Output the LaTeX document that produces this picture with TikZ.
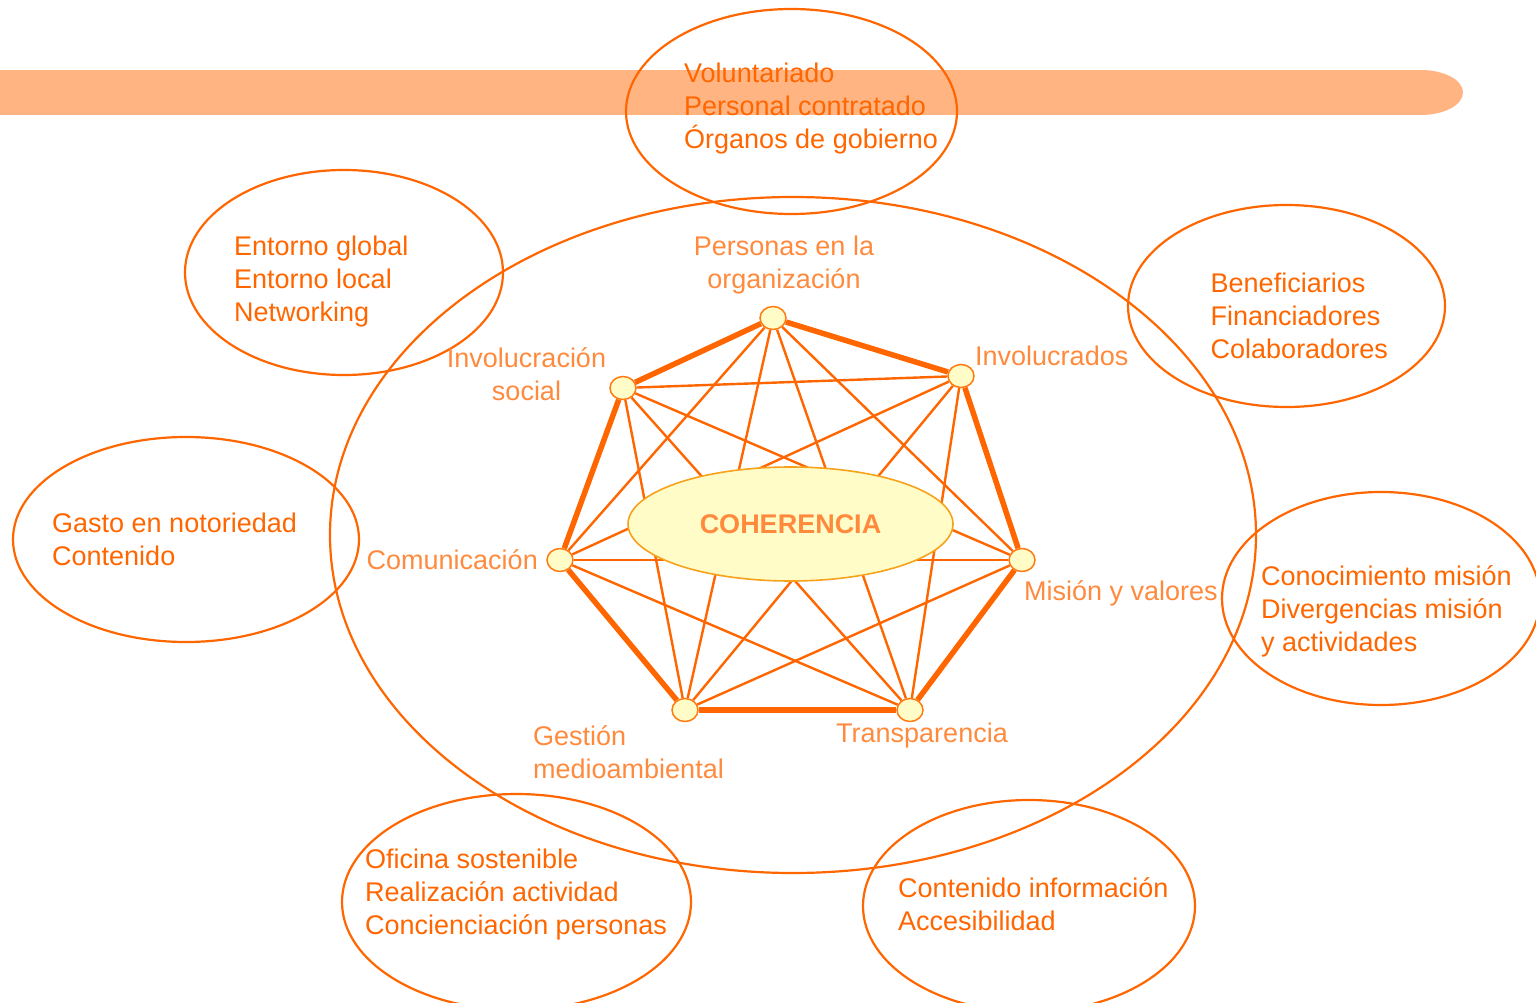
\documentclass[tikz,border=0pt]{standalone}
\usepackage{fontspec}
\setmainfont{Liberation Sans}
\usetikzlibrary{shapes.geometric}
\definecolor{dorange}{HTML}{FF6600}
\definecolor{lorange}{HTML}{FF8A3D}
\definecolor{barcol}{HTML}{FFB482}
\definecolor{paley}{HTML}{FFFCC8}
\definecolor{goldb}{HTML}{F7A21A}
\definecolor{dotb}{HTML}{FF7A10}
\tikzset{
  bigell/.style={draw=dorange, line width=2.2pt, ellipse, inner sep=0pt},
  dotnode/.style={ellipse, draw=dotb, line width=1.5pt, fill=paley, minimum width=26pt, minimum height=23pt, inner sep=0pt},
  thinedge/.style={draw=dorange, line width=2.4pt},
  thickedge/.style={draw=dorange, line width=5.5pt},
  boxtext/.style={text=dorange, font=\fontsize{27}{33}\selectfont, align=left, anchor=base west, inner sep=0pt},
  labeltext/.style={text=lorange, font=\fontsize{27}{33}\selectfont, inner sep=0pt},
  centerell/.style={ellipse, draw=goldb, line width=1.6pt, fill=paley, minimum width=325pt, minimum height=114pt, inner sep=0pt, text=lorange, font=\fontsize{27}{33}\selectfont\bfseries}
}
\begin{document}
\begin{tikzpicture}[x=1pt, y=-1pt]
\useasboundingbox (0,0) rectangle (1536,1003);
% band
\fill[barcol] (0,70) rectangle (1421,115);
\fill[barcol] (1421,92.5) ellipse [x radius=42, y radius=22.5];
% outer ellipses
\node[bigell, minimum width=926pt, minimum height=676pt] (big) at (793,535) {};
\node[bigell, minimum width=331pt, minimum height=205pt] (eTop) at (791.5,111.5) {};
\node[bigell, minimum width=318pt, minimum height=205pt] (eUL) at (344,272.5) {};
\node[bigell, minimum width=317pt, minimum height=202pt] (eUR) at (1286.5,306) {};
\node[bigell, minimum width=346pt, minimum height=205pt] (eL) at (186,539.5) {};
\node[bigell, minimum width=318pt, minimum height=213pt] (eR) at (1381,598.5) {};
\node[bigell, minimum width=349pt, minimum height=216pt] (eBL) at (516.5,902) {};
\node[bigell, minimum width=332pt, minimum height=212pt] (eBR) at (1029,906) {};
% small nodes
\node[dotnode] (p1) at (773,318) {};
\node[dotnode] (p2) at (961,376) {};
\node[dotnode] (p3) at (1022,560) {};
\node[dotnode] (p4) at (910,710) {};
\node[dotnode] (p5) at (685,710) {};
\node[dotnode] (p6) at (560,560) {};
\node[dotnode] (p7) at (623,388) {};
% edges
\foreach \a/\b in {1/3,1/4,1/5,1/6,2/4,2/5,2/6,2/7,3/5,3/6,3/7,4/6,4/7,5/7}
  \draw[thinedge] (p\a) -- (p\b);
\foreach \a/\b in {1/2,2/3,3/4,4/5,5/6,6/7,7/1}
  \draw[thickedge] (p\a) -- (p\b);
% center
\node[centerell] (coh) at (790.5,524) {COHERENCIA};
% box texts (anchor = baseline of last line)
\node[boxtext] (tTop) at (684,148.7) {Voluntariado\\Personal contratado\\Órganos de gobierno};
\node[boxtext] (tUL) at (234,321) {Entorno global\\Entorno local\\Networking};
\node[boxtext] (tUR) at (1210.5,358) {Beneficiarios\\Financiadores\\Colaboradores};
\node[boxtext] (tL) at (52,565) {Gasto en notoriedad\\Contenido};
\node[boxtext] (tR) at (1261,651) {Conocimiento misión\\Divergencias misión\\y actividades};
\node[boxtext] (tBL) at (365,934) {Oficina sostenible\\Realización actividad\\Concienciación personas};
\node[boxtext] (tBR) at (898,930) {Contenido información\\Accesibilidad};
% node labels
\node[labeltext, align=center, anchor=base] (l1) at (784,288) {Personas en la\\organización};
\node[labeltext, anchor=base west] (l2) at (975,365) {Involucrados};
\node[labeltext, anchor=base west] (l3) at (1024,600) {Misión y valores};
\node[labeltext, anchor=base west] (l4) at (836,742.7) {Transparencia};
\node[labeltext, align=left, anchor=base west] (l5) at (533,778) {Gestión\\medioambiental};
\node[labeltext, anchor=base east] (l6) at (538,569) {Comunicación};
\node[labeltext, align=center, anchor=base] (l7) at (526.5,400) {Involucración\\social};
\end{tikzpicture}
\end{document}
